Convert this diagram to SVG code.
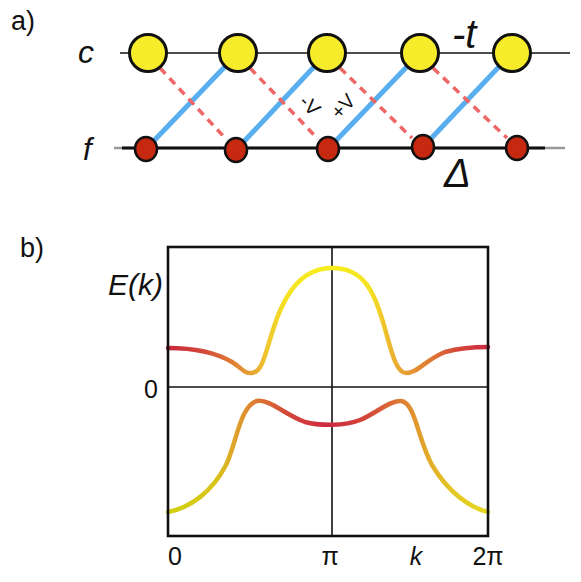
<svg xmlns="http://www.w3.org/2000/svg" width="581" height="582" viewBox="0 0 581 582">
<style>
  text { font-family: "Liberation Sans", Arial, sans-serif; fill: #111; }
  .it { font-style: italic; }
  .yc { fill: #f7ec2a; stroke: #111; stroke-width: 3; }
  .rc { fill: #c62810; stroke: #111; stroke-width: 2.5; }
  .blue { stroke: #58aeee; stroke-width: 5; stroke-linecap: butt; }
  .dash { stroke: #ee6666; stroke-width: 3.5; stroke-dasharray: 8 6; }
  .axis { fill: none; stroke: #111; }
  .band { fill: none; stroke-width: 4.5; stroke-linecap: round; }
</style>
<defs>
  <linearGradient id="gUp" gradientUnits="userSpaceOnUse" x1="168" y1="0" x2="488" y2="0">
    <stop offset="0" stop-color="#c8283e"/>
    <stop offset="0.13" stop-color="#d6503a"/>
    <stop offset="0.256" stop-color="#e6a032"/>
    <stop offset="0.31" stop-color="#efc82e"/>
    <stop offset="0.37" stop-color="#f5e222"/>
    <stop offset="0.5" stop-color="#f8ee1c"/>
    <stop offset="0.63" stop-color="#f5e222"/>
    <stop offset="0.70" stop-color="#ebb430"/>
    <stop offset="0.74" stop-color="#e8a032"/>
    <stop offset="0.82" stop-color="#e07834"/>
    <stop offset="0.9" stop-color="#d44a3a"/>
    <stop offset="1" stop-color="#cc2a40"/>
  </linearGradient>
  <linearGradient id="gLo" gradientUnits="userSpaceOnUse" x1="168" y1="0" x2="488" y2="0">
    <stop offset="0" stop-color="#d2d010"/>
    <stop offset="0.15" stop-color="#d8c41a"/>
    <stop offset="0.2" stop-color="#dea828"/>
    <stop offset="0.25" stop-color="#de8a30"/>
    <stop offset="0.29" stop-color="#dc7234"/>
    <stop offset="0.37" stop-color="#d44838"/>
    <stop offset="0.5" stop-color="#cc2a40"/>
    <stop offset="0.63" stop-color="#d44838"/>
    <stop offset="0.71" stop-color="#dc7234"/>
    <stop offset="0.76" stop-color="#e09030"/>
    <stop offset="0.81" stop-color="#e2aa2a"/>
    <stop offset="0.88" stop-color="#e4c426"/>
    <stop offset="1" stop-color="#e6d820"/>
  </linearGradient>
</defs>

<!-- panel a -->
<text x="11" y="30" font-size="27">a)</text>
<text class="it" x="78" y="63" font-size="32">c</text>
<text class="it" x="83" y="160" font-size="31">f</text>
<text class="it" x="452" y="48" font-size="40">-t</text>
<text class="it" x="444" y="187" font-size="40">Δ</text>

<g id="chains">
  <line x1="120" y1="53" x2="570" y2="53" stroke="#111" stroke-width="1.6"/>
  <line x1="114" y1="148" x2="565" y2="148" stroke="#999" stroke-width="2.5"/>
  <line x1="122" y1="148" x2="545" y2="148" stroke="#111" stroke-width="3"/>
</g>

<g id="connectors">
  <line class="blue" x1="146" y1="149" x2="238" y2="53"/>
  <line class="blue" x1="236" y1="150" x2="327" y2="53"/>
  <line class="blue" x1="328" y1="149" x2="420" y2="53"/>
  <line class="blue" x1="423" y1="147" x2="512" y2="53"/>
  <line class="dash" x1="160" y1="68" x2="226" y2="139"/>
  <line class="dash" x1="250" y1="68" x2="318" y2="139"/>
  <line class="dash" x1="340" y1="68" x2="412" y2="138"/>
  <line class="dash" x1="433" y1="68" x2="507" y2="138"/>
</g>

<g id="c1"><circle class="yc" cx="148" cy="53" r="18.5"/></g>
<g id="c2"><circle class="yc" cx="238" cy="53" r="18.5"/></g>
<g id="c3"><circle class="yc" cx="327" cy="53" r="18.5"/></g>
<g id="c4"><circle class="yc" cx="420" cy="53" r="18.5"/></g>
<g id="c5"><circle class="yc" cx="512" cy="53" r="18.5"/></g>
<g id="f1"><ellipse class="rc" cx="146" cy="149" rx="11" ry="12"/></g>
<g id="f2"><ellipse class="rc" cx="236" cy="150" rx="11" ry="12"/></g>
<g id="f3"><ellipse class="rc" cx="328" cy="149" rx="11" ry="12"/></g>
<g id="f4"><ellipse class="rc" cx="423" cy="147" rx="11" ry="12"/></g>
<g id="f5"><ellipse class="rc" cx="517" cy="148" rx="11" ry="12"/></g>

<text x="0" y="0" font-size="20" text-anchor="middle" transform="translate(305,110) rotate(45)">-V</text>
<text x="0" y="0" font-size="20" text-anchor="middle" transform="translate(348,111) rotate(-47)">+V</text>

<!-- panel b -->
<text x="20" y="257" font-size="27">b)</text>
<text class="it" x="163" y="295" font-size="30" text-anchor="end">E(k)</text>
<text x="158" y="398" font-size="25" text-anchor="end">0</text>
<text x="175" y="565" font-size="25" text-anchor="middle">0</text>
<text x="330" y="565" font-size="25" text-anchor="middle">π</text>
<text class="it" x="416" y="565" font-size="25" text-anchor="middle">k</text>
<text x="488" y="565" font-size="25" text-anchor="middle">2π</text>

<g id="plot">
  <line class="axis" x1="168" y1="387" x2="488" y2="387" stroke-width="1.6"/>
  <line class="axis" x1="332" y1="247" x2="332" y2="536" stroke-width="1.6"/>
  <path class="band" stroke="url(#gUp)" d="M168,348 C195,348 215,352 232,362 C242,368 244,374 252,373 C262,372 265,355 272,333 C282,300 298,268 332,268 C364,268 374,292 383,322 C390,345 395,373 406,373 C418,373 425,360 445,352 C460,348 475,347 488,347"/>
  <path class="band" stroke="url(#gLo)" d="M168,512 C190,508 212,492 226,465 C236,445 240,405 257,401 C270,399 285,415 305,422 C320,426 345,426 360,420 C375,414 390,400 401,401 C415,402 418,440 432,465 C448,492 470,508 488,512"/>
  <rect class="axis" x="168" y="247" width="320" height="289" stroke-width="2.6"/>
</g>
</svg>
